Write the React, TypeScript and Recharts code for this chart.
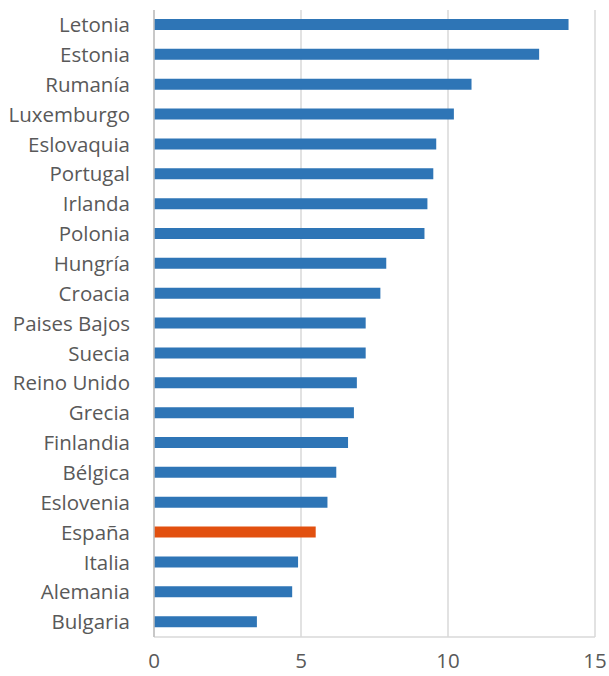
import { BarChart, Bar, XAxis, YAxis, CartesianGrid, Cell } from 'recharts';

const countries = [
  'Letonia', 'Estonia', 'Rumanía', 'Luxemburgo', 'Eslovaquia', 'Portugal', 'Irlanda',
  'Polonia', 'Hungría', 'Croacia', 'Paises Bajos', 'Suecia', 'Reino Unido', 'Grecia',
  'Finlandia', 'Bélgica', 'Eslovenia', 'España', 'Italia', 'Alemania', 'Bulgaria',
];

const values = [
  14.1, 13.1, 10.8, 10.2, 9.6, 9.5, 9.3,
  9.2, 7.9, 7.7, 7.2, 7.2, 6.9, 6.8,
  6.6, 6.2, 5.9, 5.5, 4.9, 4.7, 3.5,
];

const xTicks = [0, 5, 10, 15];
const highlighted = 'España';

const data = countries.map((name, i) => ({ name, value: values[i] }));

const labelStyle = { fill: '#595959', fontSize: 20.5, fontFamily: '"Open Sans", sans-serif' };

export default function App() {
  return (
    <div style={{ position: 'absolute', left: 0, top: 0, width: 609, height: 676, background: '#fff' }}>
      <BarChart
        width={609}
        height={676}
        data={data}
        layout="vertical"
        margin={{ top: 10, right: 14, bottom: 0, left: 0 }}
        barCategoryGap={0}
      >
        <CartesianGrid horizontal={false} stroke="#d9d9d9" strokeWidth={1.5} />
        <XAxis
          type="number"
          domain={[0, 15]}
          ticks={xTicks}
          height={39}
          tickLine={false}
          tickSize={0}
          tickMargin={16}
          axisLine={{ stroke: '#d9d9d9', strokeWidth: 1.5 }}
          tick={labelStyle}
        />
        <YAxis
          type="category"
          dataKey="name"
          width={154}
          tickLine={false}
          tickSize={0}
          tickMargin={24}
          interval={0}
          axisLine={{ stroke: '#bfbfbf', strokeWidth: 1.5 }}
          tick={labelStyle}
        />
        <Bar dataKey="value" barSize={11} isAnimationActive={false}>
          {data.map((d) => (
            <Cell key={d.name} fill={d.name === highlighted ? '#e2500f' : '#2e75b6'} />
          ))}
        </Bar>
      </BarChart>
    </div>
  );
}
